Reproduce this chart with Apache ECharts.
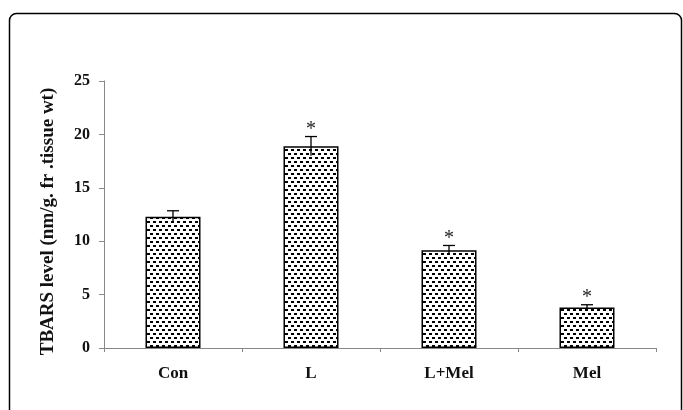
<!DOCTYPE html>
<html><head><meta charset="utf-8">
<script src="https://cdn.jsdelivr.net/npm/echarts@6/dist/echarts.min.js"></script>
<style>html,body{margin:0;padding:0;background:#fff}#c{width:683px;height:410px}</style>
</head><body><div id="c"></div>
<script>
var categories = ['Con', 'L', 'L+Mel', 'Mel'];
var values = [12.3, 18.9, 9.15, 3.8];
var errors = [0.55, 0.9, 0.45, 0.25];
var significant = [false, true, true, true];
var yTicks = [0, 5, 10, 15, 20, 25];

function makePattern() {
  var c = document.createElement('canvas');
  c.width = 6; c.height = 8;
  var g = c.getContext('2d');
  g.fillStyle = '#fff'; g.fillRect(0, 0, 6, 8);
  g.fillStyle = '#000';
  g.fillRect(0, 1, 3, 2);
  g.fillRect(3, 5, 3, 2);
  return c;
}

var chart = echarts.init(document.getElementById('c'), null, {renderer: 'canvas'});
var serif = '"Liberation Serif", "DejaVu Serif", serif';
chart.setOption({
  animation: false,
  backgroundColor: '#fff',
  graphic: [{
    type: 'rect', silent: true,
    shape: {x: 9.5, y: 13.5, width: 672, height: 440, r: 7},
    style: {fill: 'none', stroke: '#000', lineWidth: 1.5}
  }],
  grid: {left: 104, right: 27, top: 81, bottom: 62},
  xAxis: {
    type: 'category', data: categories,
    axisLine: {lineStyle: {color: '#888', width: 1}},
    axisTick: {show: true, length: 4, lineStyle: {color: '#888'}},
    axisLabel: {color: '#111', fontFamily: serif, fontWeight: 'bold', fontSize: 17, margin: 17}
  },
  yAxis: {
    type: 'value', min: 0, max: 25, interval: 5,
    splitLine: {show: false},
    axisLine: {show: true, lineStyle: {color: '#888', width: 1}},
    axisTick: {show: true, length: 5, lineStyle: {color: '#888'}},
    axisLabel: {color: '#111', fontFamily: serif, fontWeight: 'bold', fontSize: 16, margin: 14,
      formatter: function (v) { return yTicks.indexOf(v) >= 0 ? String(v) : ''; }},
    name: 'TBARS level (nm/g. fr .tissue wt)',
    nameLocation: 'middle', nameGap: 46, nameRotate: 90,
    nameTextStyle: {color: '#111', fontFamily: serif, fontWeight: 'bold', fontSize: 19, padding: [0, 14, 0, 0]}
  },
  series: [{
    type: 'bar', data: values, barWidth: 55,
    itemStyle: {color: {image: makePattern(), repeat: 'repeat'}, borderColor: '#000', borderWidth: 1.5},
    z: 2
  }, {
    type: 'custom', z: 5,
    data: values.map(function (v, i) { return [i, v, errors[i], significant[i] ? 1 : 0]; }),
    renderItem: function (params, api) {
      var x = api.value(0), v = api.value(1), e = api.value(2), s = api.value(3);
      var top = api.coord([x, v + e]);
      var bot = api.coord([x, v - e]);
      var cap = 6;
      var children = [
        {type: 'line', shape: {x1: top[0], y1: top[1], x2: bot[0], y2: bot[1]}, style: {stroke: '#000', lineWidth: 1.3}},
        {type: 'line', shape: {x1: top[0] - cap, y1: top[1], x2: top[0] + cap, y2: top[1]}, style: {stroke: '#000', lineWidth: 1.3}}
      ];
      if (s) {
        children.push({type: 'text', x: top[0], y: top[1] + 3,
          style: {text: '*', fill: '#222', font: '20px ' + serif, align: 'center', verticalAlign: 'bottom'}});
      }
      return {type: 'group', children: children};
    }
  }]
});
</script></body></html>
